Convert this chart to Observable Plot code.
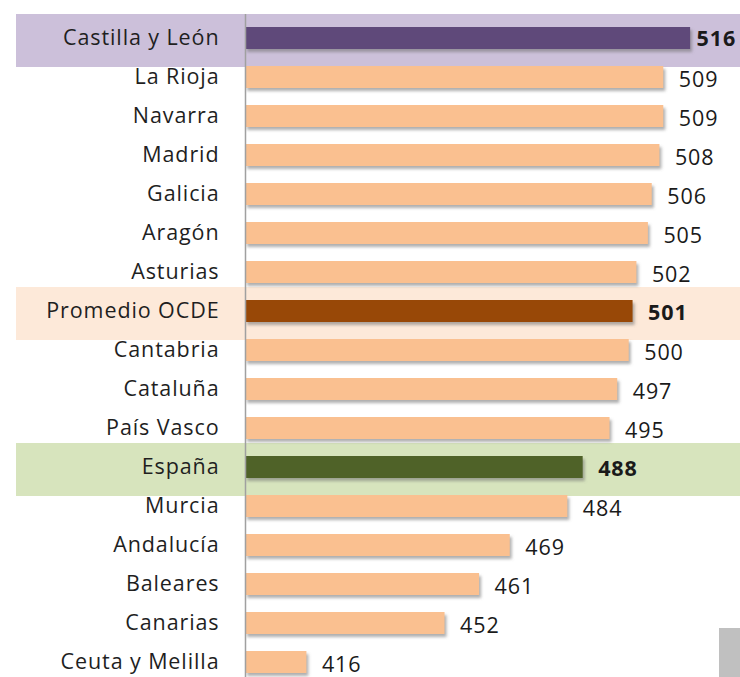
<!DOCTYPE html>
<html><head><meta charset="utf-8">
<script src="https://cdn.jsdelivr.net/npm/d3@7"></script>
<script src="https://cdn.jsdelivr.net/npm/@observablehq/plot@0.6"></script>
<style>
body{margin:0;background:#fff;}
#wrap{position:relative;width:740px;height:677px;overflow:hidden;}
#corner{position:absolute;left:719px;top:628px;width:21px;height:49px;background:#c0c0c0;}
</style>
</head><body>
<div id="wrap"><div id="corner"></div></div>
<script>
const regions = ["Castilla y León","La Rioja","Navarra","Madrid","Galicia","Aragón","Asturias","Promedio OCDE","Cantabria","Cataluña","País Vasco","España","Murcia","Andalucía","Baleares","Canarias","Ceuta y Melilla"];
const scores = [516,509,509,508,506,505,502,501,500,497,495,488,484,469,461,452,416];
const highlighted = ["Castilla y León","Promedio OCDE","España"];
const barColors = ["#5f497a","#984807","#4f6228"];
const bandColors = ["#ccc0da","#fde9d9","#d7e4bd"];
const baseColor = "#fac090";

const data = regions.map((r,i)=>({region:r, score:scores[i], hi:highlighted.indexOf(r)}));
const hiData = data.filter(d=>d.hi>=0);
const font = "'Open Sans', Lato, sans-serif";

const chart = Plot.plot({
  width:740, height:677,
  marginLeft:245, marginRight:0, marginTop:14, marginBottom:0,
  style:{fontFamily:font, background:"transparent", letterSpacing:"0.9px"},
  x:{domain:[400,529], axis:null},
  y:{domain:regions, range:[15.4,683.5], paddingInner:0.44, paddingOuter:0.22, axis:null},
  marks:[
    Plot.barX(hiData,{x1:400,x2:529,y:"region",fill:d=>bandColors[d.hi],insetLeft:-229,insetTop:-13,insetBottom:-18}),
    Plot.barX(data,{x1:400,x2:"score",y:"region",fill:"#6f6f6f",fillOpacity:0.55,dx:2,dy:3}),
    Plot.barX(data,{x1:400,x2:"score",y:"region",fill:d=>d.hi>=0?barColors[d.hi]:baseColor}),
    Plot.ruleX([400],{stroke:"#a0a0a0",strokeWidth:1.5}),
    Plot.text(data,{x:400,y:"region",text:"region",textAnchor:"end",dx:-26,fontSize:21.5,fill:"#1f1f1f"}),
    Plot.text(data.filter(d=>d.hi<0),{x:"score",y:"region",text:d=>String(d.score),textAnchor:"start",dx:15,dy:3,fontSize:21.5,fill:"#1a1a1a"}),
    Plot.text(data.filter(d=>d.hi>0),{x:"score",y:"region",text:d=>String(d.score),textAnchor:"start",dx:15,dy:2,fontSize:21.5,fontWeight:"bold",fill:"#1a1a1a"}),
    Plot.text(data.filter(d=>d.hi===0),{x:"score",y:"region",text:d=>String(d.score),textAnchor:"start",dx:6,dy:1,fontSize:21.5,fontWeight:"bold",fill:"#1a1a1a"})
  ]
});
document.getElementById("wrap").prepend(chart);
// soften the bar shadows
const svg = d3.select(chart);
const defs = svg.insert("defs",":first-child");
defs.append("filter").attr("id","soft").attr("x","-10%").attr("y","-50%").attr("width","130%").attr("height","200%")
  .append("feGaussianBlur").attr("stdDeviation",1.6);
svg.selectAll("g[aria-label=bar]").filter((d,i)=>i===1).attr("filter","url(#soft)");
</script>
</body></html>
